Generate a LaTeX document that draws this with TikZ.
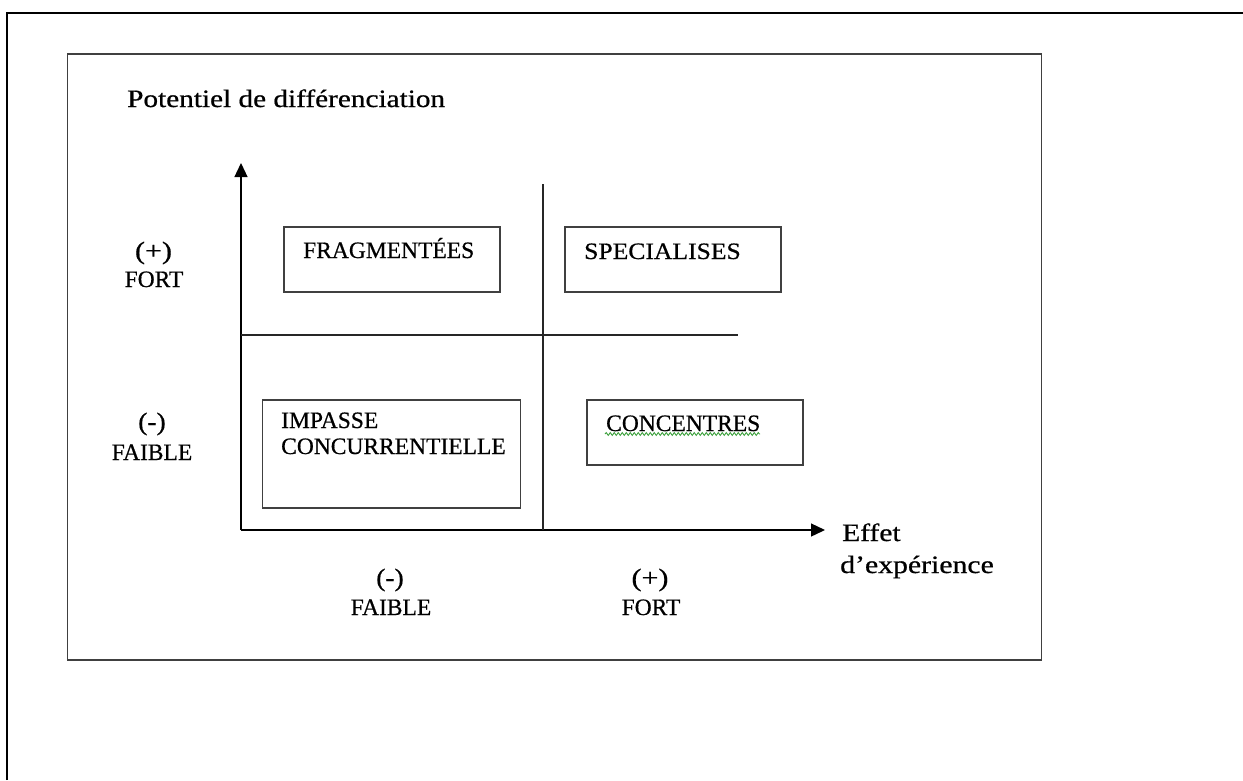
\documentclass[tikz,border=0pt]{standalone}
\usepackage{fontspec}
\setmainfont{Liberation Serif}[FakeBold=0.6]
\usetikzlibrary{arrows.meta,decorations.pathmorphing}
\definecolor{framegray}{HTML}{404040}
\definecolor{spellgreen}{HTML}{3CA03C}
\newcommand{\wide}[2]{\scalebox{#1}[1]{#2}}
\tikzset{
  lbl/.style={inner sep=0pt, font=\fontsize{23.5}{26}\selectfont},
  lowlbl/.style={inner sep=0pt, font=\fontsize{25}{28}\selectfont},
  quadbox/.style={draw=framegray, line width=1.4pt, inner sep=0pt},
  axis/.style={draw=black, line width=1.3pt, -{Triangle[length=14pt,width=13pt]}},
  divider/.style={draw=black!85, line width=1.2pt},
}
\begin{document}
\begin{tikzpicture}[x=1pt,y=-1pt]
\useasboundingbox (0,0) rectangle (1243,780);
% outer page frame
\coordinate (obl) at (7,780);
\coordinate (otl) at (7,13);
\coordinate (otr) at (1243,13);
\draw[black, line width=2.2pt] (obl) -- (otl) -- (otr);
% inner frame
\node[quadbox, minimum width=974pt, minimum height=606pt] (frame) at (554.5,357) {};
% axes
\coordinate (origin) at (241,530);
\coordinate (ytip) at (241,163);
\coordinate (xtip) at (825,530);
\draw[axis] (origin) -- (ytip);
\draw[axis] (origin) -- (xtip);
% dividers
\coordinate (vtop) at (543,184);
\coordinate (vbot) at (543,530);
\coordinate (hleft) at (241,335);
\coordinate (hright) at (738,335);
\draw[divider] (vtop) -- (vbot);
\draw[divider] (hleft) -- (hright);
% quadrant boxes
\node[quadbox, minimum width=216pt, minimum height=65pt] (fragbox) at (392,259.5) {};
\node[quadbox, minimum width=216pt, minimum height=65pt] (specbox) at (673,259.5) {};
\node[quadbox, minimum width=258pt, minimum height=108pt] (impbox) at (391.5,454) {};
\node[quadbox, minimum width=216pt, minimum height=65pt] (concbox) at (695,432.5) {};
\node[lbl, anchor=base west] (frag) at (303,258) {FRAGMENTÉES};
\node[lbl, anchor=base west] (spec) at (584,259) {\wide{1.09}{SPECIALISES}};
\node[lbl, anchor=base west] (imp1) at (281,428) {IMPASSE};
\node[lbl, anchor=base west] (imp2) at (281,454) {CONCURRENTIELLE};
\node[lbl, anchor=base west] (conc) at (606,431) {CONCENTRES};
\coordinate (sqa) at (605,434);
\coordinate (sqb) at (760,434);
\draw[spellgreen, line width=0.9pt, decorate, decoration={snake, segment length=4pt, amplitude=1.4pt}] (sqa) -- (sqb);
% axis titles
\node[lowlbl, anchor=base west] (ytitle) at (127,107) {\wide{1.17}{Potentiel de différenciation}};
\node[lowlbl, anchor=base west] (xtitle1) at (842,541) {\wide{1.18}{Effet}};
\node[lowlbl, anchor=base west] (xtitle2) at (840,573) {\wide{1.19}{d’expérience}};
% left scale labels
\node[lowlbl, anchor=base] (lplus) at (153.5,259) {\wide{1.2}{(+)}};
\node[lbl, anchor=base] (lfort) at (154,287) {FORT};
\node[lowlbl, anchor=base] (lminus) at (152,430) {\wide{1.1}{(-)}};
\node[lbl, anchor=base] (lfaible) at (152,460) {FAIBLE};
% bottom scale labels
\node[lowlbl, anchor=base] (bminus) at (390,586) {\wide{1.1}{(-)}};
\node[lbl, anchor=base] (bfaible) at (391,615) {FAIBLE};
\node[lowlbl, anchor=base] (bplus) at (650,586) {\wide{1.2}{(+)}};
\node[lbl, anchor=base] (bfort) at (651,615) {FORT};
\end{tikzpicture}
\end{document}
